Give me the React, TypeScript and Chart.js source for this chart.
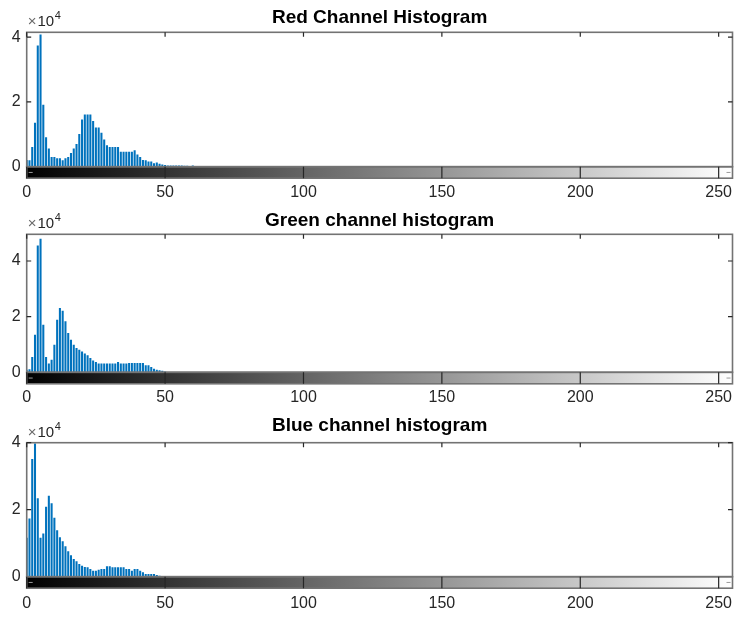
import React, { useEffect, useRef } from "react";
import { Chart, registerables } from "chart.js";

Chart.register(...registerables);

// ---- data (counts per intensity bin, starting at bin 0; all later bins are 0) ----
const RED_COUNTS = [
  2000, 1900, 6000, 13500, 37300, 40700, 19000, 9000, 5500, 2900,
  2900, 2500, 2500, 1900, 2500, 2900, 4100, 5500, 6900, 10000,
  14500, 16000, 16000, 16000, 14000, 12000, 12000, 10400, 8300, 6500,
  6000, 6000, 6000, 6000, 4500, 4500, 4500, 4500, 4500, 5000,
  3700, 2900, 2000, 1900, 1500, 1500, 1000, 1200, 800, 600,
  400, 300, 300, 300, 300, 250, 300, 200, 200, 150, 250,
];
const GREEN_COUNTS = [
  800, 1000, 5400, 13400, 45500, 47900, 17000, 5400, 3000, 4400,
  9800, 18800, 23000, 22000, 18200, 14000, 11600, 9800, 8600, 8000,
  7400, 6600, 6000, 5000, 4100, 3600, 3000, 3000, 3000, 3000,
  3000, 3000, 3000, 3600, 3000, 3000, 3000, 3200, 3200, 3200,
  3200, 3200, 3200, 2400, 2400, 1800, 1200, 800, 600, 400, 200,
];
const BLUE_COUNTS = [
  11500, 17300, 35000, 39700, 23300, 11500, 12800, 20800, 24100, 21800,
  17500, 13800, 11700, 10500, 9000, 7500, 6300, 5200, 4500, 3700,
  3200, 2800, 2700, 2200, 1700, 1700, 2000, 2200, 2200, 3000,
  3000, 2700, 2700, 2700, 2700, 2700, 2200, 2200, 1700, 2200,
  2200, 1700, 1200, 700, 700, 700, 700, 400, 200, 100,
];
const TITLES = ["Red Channel Histogram", "Green channel histogram", "Blue channel histogram"];
const Y_MAXES = [41500, 49600, 40000];
const X_TICKS = [0, 50, 100, 150, 200, 250];
const Y_TICKS = [0, 20000, 40000];
const X_MIN = 0;
const X_MAX = 255;
const Y_EXPONENT = "4";

// ---- styling ----
const FONT = '"Liberation Sans", Arial, Helvetica, sans-serif';
const BAR_COLOR = "#0072BD";
const TICK_COLOR = "#262626";
const BOX_COLOR = "#737373";

const FRAMES = [
  { top: 0, height: 206, titleTop: 6.4, titleBottom: 3.1, xPad: 16.5, padBottom: 3.6 },
  { top: 206, height: 206, titleTop: 3.6, titleBottom: 1.9, xPad: 15.2, padBottom: 5.3 },
  { top: 412, height: 207, titleTop: 2.6, titleBottom: 5.3, xPad: 17.0, padBottom: 6.1 },
];

const STRIP_H = 11.5;
const LABEL_LINE = 19.2;
const Y_AXIS_W = 15;

const matlabAxes = {
  id: "matlabAxes",
  afterDraw(chart: any) {
    const { ctx, chartArea, scales } = chart;
    const { left, right, top, bottom } = chartArea;
    const x = scales.x;
    const y = scales.y;
    ctx.save();
    // intensity strip
    const g = ctx.createLinearGradient(x.getPixelForValue(X_MIN), 0, x.getPixelForValue(X_MAX), 0);
    g.addColorStop(0, "#000000");
    g.addColorStop(1, "#ffffff");
    ctx.fillStyle = g;
    ctx.fillRect(left, bottom, right - left, STRIP_H);
    // boxes
    ctx.strokeStyle = BOX_COLOR;
    ctx.lineWidth = 1.6;
    ctx.strokeRect(left, top, right - left, bottom - top);
    ctx.strokeRect(left, bottom, right - left, STRIP_H);
    // ticks
    ctx.strokeStyle = TICK_COLOR;
    ctx.lineWidth = 1.2;
    ctx.beginPath();
    X_TICKS.forEach((v) => {
      const px = x.getPixelForValue(v);
      ctx.moveTo(px, top);
      ctx.lineTo(px, top + 4.5);
      ctx.moveTo(px, bottom);
      ctx.lineTo(px, bottom + STRIP_H);
    });
    Y_TICKS.forEach((v) => {
      const py = y.getPixelForValue(v);
      if (v === 0) return;
      ctx.moveTo(left, py);
      ctx.lineTo(left + 4.5, py);
      ctx.moveTo(right, py);
      ctx.lineTo(right - 4.5, py);
    });
    ctx.stroke();
    // small ticks inside strip
    ctx.strokeStyle = "#9a9a9a";
    ctx.lineWidth = 1;
    ctx.beginPath();
    const my = bottom + STRIP_H / 2;
    ctx.moveTo(left + 2, my);
    ctx.lineTo(left + 6, my);
    ctx.moveTo(right - 2, my);
    ctx.lineTo(right - 6, my);
    ctx.stroke();
    // exponent label
    ctx.fillStyle = TICK_COLOR;
    ctx.textAlign = "left";
    ctx.textBaseline = "alphabetic";
    ctx.font = `15px ${FONT}`;
    ctx.fillStyle = "#6a6a6a";
    ctx.fillText("\u00d7", left + 1, top - 6);
    const wx = ctx.measureText("\u00d7").width;
    ctx.fillStyle = TICK_COLOR;
    ctx.fillText("10", left + 2 + wx, top - 6);
    const w10 = ctx.measureText("10").width;
    ctx.font = `11px ${FONT}`;
    ctx.fillText(Y_EXPONENT, left + 2.5 + wx + w10, top - 13);
    ctx.restore();
  },
};

function HistPanel({ counts, title, yMax, frame }: any) {
  const ref = useRef<HTMLCanvasElement>(null);
  useEffect(() => {
    if (!ref.current) return;
    const chart = new Chart(ref.current, {
      type: "bar",
      data: {
        datasets: [
          {
            data: counts.map((c: number, i: number) => ({ x: i, y: c })),
            backgroundColor: BAR_COLOR,
            borderWidth: 0,
            barThickness: 1.4,
          } as any,
        ],
      },
      options: {
        animation: false,
        responsive: false,
        devicePixelRatio: 1,
        layout: { padding: { left: 11.7, right: 6.5, top: 0, bottom: frame.padBottom } },
        plugins: {
          legend: { display: false },
          tooltip: { enabled: false },
          title: {
            display: true,
            fullSize: false,
            text: title,
            color: "#000000",
            font: { family: FONT, size: 19, weight: "bold" },
            padding: { top: frame.titleTop, bottom: frame.titleBottom },
          },
        },
        scales: {
          x: {
            type: "linear",
            min: X_MIN,
            max: X_MAX,
            offset: false,
            grid: { display: false, drawTicks: false },
            border: { display: false },
            afterBuildTicks: (scale: any) => {
              scale.ticks = X_TICKS.map((v) => ({ value: v }));
            },
            afterFit: (scale: any) => {
              scale.height = frame.xPad + LABEL_LINE;
              scale.paddingLeft = 0;
              scale.paddingRight = 0;
            },
            ticks: {
              padding: frame.xPad,
              color: TICK_COLOR,
              font: { family: FONT, size: 16 },
              maxRotation: 0,
              autoSkip: false,
            },
          },
          y: {
            type: "linear",
            min: 0,
            max: yMax,
            grid: { display: false, drawTicks: false },
            border: { display: false },
            afterBuildTicks: (scale: any) => {
              scale.ticks = Y_TICKS.map((v) => ({ value: v }));
            },
            afterFit: (scale: any) => {
              scale.width = Y_AXIS_W;
              scale.paddingTop = 0;
              scale.paddingBottom = 0;
            },
            ticks: {
              padding: 6,
              color: TICK_COLOR,
              font: { family: FONT, size: 16 },
              callback: (v: any) => String(Number(v) / 10000),
            },
          },
        },
      } as any,
      plugins: [matlabAxes],
    });
    return () => chart.destroy();
  }, [counts, title, yMax, frame]);
  return (
    <canvas
      ref={ref}
      width={739}
      height={frame.height}
      style={{ position: "absolute", left: 0, top: frame.top, width: 739, height: frame.height }}
    />
  );
}

const SERIES = [RED_COUNTS, GREEN_COUNTS, BLUE_COUNTS];

export default function App() {
  return (
    <div style={{ position: "fixed", left: 0, top: 0, width: 739, height: 619, background: "#ffffff", overflow: "hidden" }}>
      {SERIES.map((counts, i) => (
        <HistPanel key={i} counts={counts} title={TITLES[i]} yMax={Y_MAXES[i]} frame={FRAMES[i]} />
      ))}
    </div>
  );
}
